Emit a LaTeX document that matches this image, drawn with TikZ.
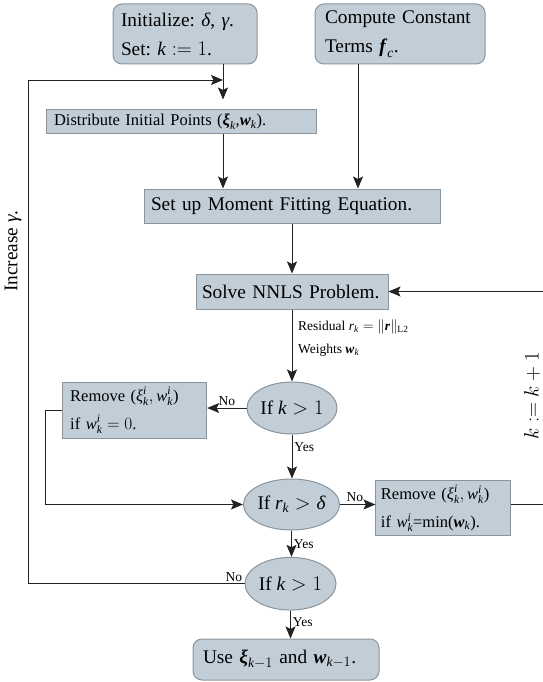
\documentclass[tikz,border=0pt]{standalone}
\usepackage{amsmath}
\usepackage{fontspec}
\setmainfont{Liberation Serif}
\usetikzlibrary{shapes.geometric,arrows.meta,calc}
\frenchspacing
\newcommand\vi[1]{\textit{#1}}
\newcommand\vb[1]{\textbf{\textit{#1}}}
\newcommand\fbig{\fontsize{19.3}{29}\selectfont}
\newcommand\fmid{\fontsize{16.5}{28}\selectfont}
\newcommand\fsmall{\fontsize{13.5}{23}\selectfont}
\definecolor{boxfill}{RGB}{193,206,216}
\definecolor{boxline}{RGB}{140,148,155}
\definecolor{conn}{RGB}{35,35,35}
\tikzset{
  base/.style={draw=boxline, fill=boxfill, line width=1pt, inner ysep=0pt, align=left, anchor=center},
  sbox/.style={base, rectangle},
  rbox/.style={base, rectangle, rounded corners=9pt},
  ebox/.style={draw=boxline, fill=boxfill, line width=1pt, ellipse, inner sep=0pt, font=\fbig},
  arr/.style={draw=conn, line width=0.9pt, -{Stealth[length=12pt,width=10pt,inset=2.5pt]}},
  lab/.style={font=\fsmall, inner sep=2pt}
}
\begin{document}
\begin{tikzpicture}[x=1pt,y=-1pt]
\useasboundingbox (0,0) rectangle (542,682);
% nodes
\node[rbox, font=\fbig, text width=128pt, inner xsep=8pt, minimum height=60pt] (init) at (185,34)
  {Initialize: \vi{δ}, \vi{γ}.\\Set: $\vi{k} := 1$.};
\node[rbox, font=\fbig, text width=150pt, inner xsep=10pt, minimum height=60pt] (comp) at (400,34)
  {Compute Constant\\Terms $\vb{f}_{\vi{c}}$.};
\node[sbox, font=\fmid, text width=254pt, inner xsep=8pt, minimum height=23pt] (dist) at (181,121.5)
  {Distribute Initial Points ($\vb{ξ}_{\vi{k}}$,$\vb{w}_{\vi{k}}$).};
\node[sbox, font=\fbig, text width=282pt, inner xsep=7pt, minimum height=34pt] (setup) at (292,206)
  {Set up Moment Fitting Equation.};
\node[sbox, font=\fbig, text width=180pt, inner xsep=6pt, minimum height=35pt] (solve) at (292,291.5)
  {Solve NNLS Problem.};
\node[ebox, minimum width=90pt, minimum height=52pt] (e1) at (292,408) {If $\vi{k} > 1$};
\node[sbox, font=\fmid, text width=129pt, inner xsep=7.5pt, minimum height=56pt] (remL) at (134.7,410)
  {Remove ($\vi{ξ}^{\vi{i}}_{\vi{k}}, \vi{w}^{\vi{i}}_{\vi{k}}$)\\if $\vi{w}^{\vi{i}}_{\vi{k}} = 0$.};
\node[ebox, minimum width=84pt, minimum height=51pt] (e2) at (291.5,504.5) {If $\vi{r}_{\vi{k}} > \vi{δ}$};
\node[sbox, font=\fmid, text width=124.7pt, inner xsep=5pt, minimum height=55.3pt] (remR) at (443.3,508.3)
  {Remove ($\vi{ξ}^{\vi{i}}_{\vi{k}}, \vi{w}^{\vi{i}}_{\vi{k}}$)\\if $\vi{w}^{\vi{i}}_{\vi{k}}$=min($\vb{w}_{\vi{k}}$).};
\node[ebox, minimum width=91pt, minimum height=52.7pt] (e3) at (290.5,583.7) {If $\vi{k} > 1$};
\node[rbox, font=\fbig, text width=166pt, inner xsep=10pt, minimum height=41pt] (use) at (286,659.5)
  {Use $\vb{ξ}_{\vi{k}-1}$ and $\vb{w}_{\vi{k}-1}$.};
% side labels
\node[rotate=90, font=\fbig] (inc) at (13,251) {Increase \vi{γ}.};
\node[rotate=90, font=\fontsize{21}{24}\selectfont] (kinc) at (532,396) {$k := k + 1$};
\node[lab, anchor=west, align=left] (res) at (296,338)
  {Residual $\vi{r}_{\vi{k}} = \|\vb{r}\|_{\mathrm{L2}}$\\Weights $\vb{w}_{\vi{k}}$};
% helper coordinates
\coordinate (xa) at (223,0);
\coordinate (xc) at (358,0);
\coordinate (ltop) at (223,80);
\coordinate (lx) at (28,0);
\coordinate (lx2) at (45,0);
\coordinate (rx) at (544,0);
% connectors
\draw[arr, shorten >=10pt] (init.south -| xa) -- (dist.north -| xa);
\draw[arr] (dist.south -| xa) -- (setup.north -| xa);
\draw[arr] (comp.south -| xc) -- (setup.north -| xc);
\draw[arr] (setup.south -| solve.north) -- (solve.north);
\draw[arr] (solve.south) -- (e1.north);
\draw[arr] (e1.west) -- node[lab, above] {No} (e1.west -| remL.east);
\draw[arr] (e1.south) -- node[lab, anchor=west, pos=0.28] {Yes} (e1.south |- e2.north);
\draw[arr] (remL.west) -- (remL.west -| lx2) |- (e2.west);
\draw[arr] (e2.east) -- node[lab, above, pos=0.42] {No} (e2.east -| remR.west);
\draw[arr] (e2.south) -- node[lab, anchor=west, pos=0.5] {Yes} (e2.south |- e3.north);
\draw[arr] (remR.east |- e2.east) -- (e2.east -| rx) |- (solve.east);
\draw[arr] (e3.south) -- node[lab, anchor=west, pos=0.4] {Yes} (e3.south |- use.north);
\draw[arr] (e3.west) -- node[lab, pos=0, anchor=south east] {No} (e3.west -| lx) |- (ltop);
\end{tikzpicture}
\end{document}
